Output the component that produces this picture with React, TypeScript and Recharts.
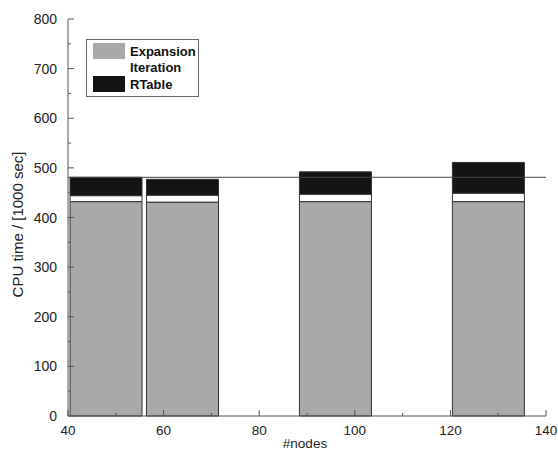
import React from 'react';
import { ComposedChart, Bar, XAxis, YAxis, ReferenceLine, Legend } from 'recharts';

const nodes = [48, 64, 96, 128];
const expansion = [432, 431, 432, 432];
const iteration = [12, 14, 15, 17];
const rtable = [37, 32, 45, 62];
const xTicks = [40, 50, 60, 70, 80, 90, 100, 110, 120, 130, 140];
const yTicks = [0, 50, 100, 150, 200, 250, 300, 350, 400, 450, 500, 550, 600, 650, 700, 750, 800];
const referenceValue = 481;
const seriesNames = ['Expansion', 'Iteration', 'RTable'];
const seriesColors = ['#a9a9a9', '#ffffff', '#141414'];

const data = nodes.map((n, i) => ({
  nodes: n,
  Expansion: expansion[i],
  Iteration: iteration[i],
  RTable: rtable[i],
}));

const FONT = '"Liberation Sans", Arial, Helvetica, sans-serif';
const AXIS = '#555';

const BottomTick = (props: any) => {
  const { x, y, payload } = props;
  const major = payload.value % 20 === 0;
  return (
    <g>
      <line x1={x} x2={x} y1={y} y2={y - (major ? 6 : 3)} stroke={AXIS} />
      {major && (
        <text x={x} y={y + 19} textAnchor="middle" fontSize={13.5} fill="#222" fontFamily={FONT}>
          {payload.value}
        </text>
      )}
    </g>
  );
};

const TopTick = (props: any) => {
  const { x, y, payload } = props;
  const major = payload.value % 20 === 0;
  return <line x1={x} x2={x} y1={y} y2={y + (major ? 6 : 3)} stroke={AXIS} />;
};

const LeftTick = (props: any) => {
  const { x, y, payload } = props;
  const major = payload.value % 100 === 0;
  return (
    <g>
      <line x1={x} x2={x + (major ? 6 : 3)} y1={y} y2={y} stroke={AXIS} />
      {major && (
        <text x={x - 11} y={y + 5} textAnchor="end" fontSize={14} fill="#222" fontFamily={FONT}>
          {payload.value}
        </text>
      )}
    </g>
  );
};

const RightTick = (props: any) => {
  const { x, y, payload } = props;
  const major = payload.value % 100 === 0;
  return <line x1={x} x2={x - (major ? 6 : 3)} y1={y} y2={y} stroke={AXIS} />;
};

const LegendBox = () => (
  <div
    style={{
      width: 113,
      height: 58,
      border: '1px solid #666',
      background: '#fff',
      boxSizing: 'border-box',
      padding: '3px 0 0 6px',
      fontFamily: FONT,
    }}
  >
    {seriesNames.map((name, i) => (
      <div key={name} style={{ display: 'flex', alignItems: 'center', height: 16.5 }}>
        <div
          style={{
            width: 32,
            height: 16,
            background: seriesColors[i],
            boxSizing: 'border-box',
          }}
        />
        <span style={{ marginLeft: 5, fontSize: 13, fontWeight: 'bold', color: '#111' }}>{name}</span>
      </div>
    ))}
  </div>
);

export default function App() {
  return (
    <div style={{ position: 'absolute', left: 0, top: 0, background: '#fff' }}>
      <ComposedChart
        width={558}
        height={452}
        data={data}
        margin={{ top: 19, right: 12, left: 0, bottom: 0 }}
        style={{ fontFamily: FONT }}
      >
        <XAxis
          xAxisId="b"
          dataKey="nodes"
          type="number"
          domain={[40, 140]}
          ticks={xTicks}
          interval={0}
          height={36}
          tickSize={0}
          tickMargin={0}
          tickLine={false}
          tick={<BottomTick />}
          axisLine={{ stroke: AXIS }}
          label={{ value: '#nodes', position: 'insideBottom', offset: 4, dx: -2, fontSize: 13.5, fill: '#222' }}
        />
        <XAxis
          xAxisId="t"
          orientation="top"
          dataKey="nodes"
          type="number"
          domain={[40, 140]}
          ticks={xTicks}
          interval={0}
          height={0}
          tickSize={0}
          tickMargin={0}
          tickLine={false}
          tick={<TopTick />}
          axisLine={{ stroke: AXIS }}
        />
        <YAxis
          yAxisId="l"
          type="number"
          domain={[0, 800]}
          ticks={yTicks}
          interval={0}
          width={68}
          tickSize={0}
          tickMargin={0}
          tickLine={false}
          tick={<LeftTick />}
          axisLine={{ stroke: AXIS }}
          label={{ value: 'CPU time / [1000 sec]', angle: -90, position: 'center', dx: -16, dy: 7, fontSize: 15, fill: '#222' }}
        />
        <YAxis
          yAxisId="r"
          orientation="right"
          type="number"
          domain={[0, 800]}
          ticks={yTicks}
          interval={0}
          width={0}
          tickSize={0}
          tickMargin={0}
          tickLine={false}
          tick={<RightTick />}
          axisLine={{ stroke: AXIS }}
        />
        <ReferenceLine xAxisId="b" yAxisId="l" y={referenceValue} stroke="#444" strokeWidth={1} />
        {seriesNames.map((name, i) => (
          <Bar
            key={name}
            xAxisId="b"
            yAxisId="l"
            dataKey={name}
            stackId="a"
            barSize={72}
            fill={seriesColors[i]}
            stroke="#333"
            strokeWidth={1}
            isAnimationActive={false}
          />
        ))}
        <Legend
          layout="vertical"
          align="center"
          verticalAlign="middle"
          content={<LegendBox />}
          wrapperStyle={{ left: 86, top: 39, width: 'auto', height: 'auto' }}
        />
      </ComposedChart>
    </div>
  );
}
